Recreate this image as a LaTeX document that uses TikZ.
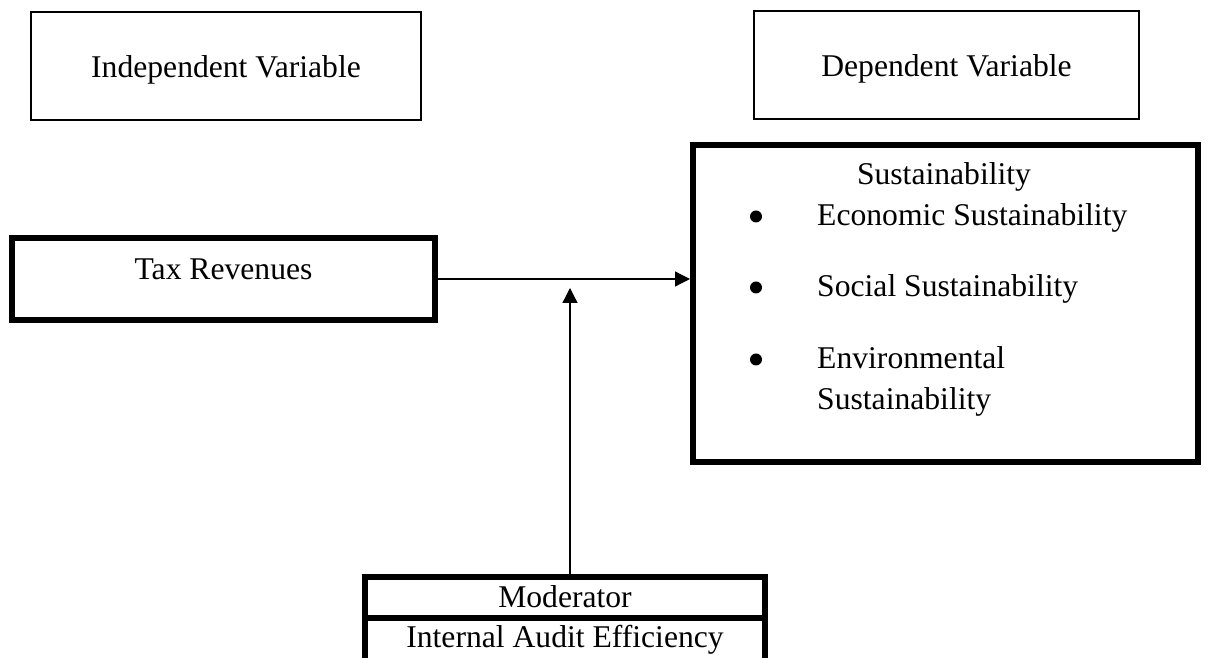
\documentclass[tikz,border=0pt]{standalone}
\usepackage{fontspec}
\setmainfont{Liberation Serif}
\usetikzlibrary{arrows.meta}
\tikzset{thinbox/.style={draw, line width=0.04cm, inner sep=0pt},
  thickbox/.style={draw, line width=0.12cm, inner sep=0pt},
  dot/.style={circle, fill, inner sep=0pt, minimum size=0.24cm},
  link/.style={line width=0.026cm, -{Triangle[length=0.3cm,width=0.3cm]}}}

\begin{document}
\begin{tikzpicture}[font=\fontsize{18}{23.25}\selectfont]
\useasboundingbox (0,0) rectangle (24.18,13.16);

\node[thinbox, anchor=base, minimum width=7.8cm, text height=1.32cm, text depth=0.84cm] (indep) at (4.52,11.6) {Independent Variable};
\node[thinbox, anchor=base, minimum width=7.7cm, text height=1.32cm, text depth=0.84cm] (dep) at (18.93,11.62) {Dependent Variable};

\node[thickbox, anchor=base, minimum width=8.46cm, text height=0.84cm, text depth=0.8cm] (tax) at (4.47,7.56) {Tax Revenues};

\node[thickbox, minimum width=10.1cm, minimum height=6.34cm] (sus) at (18.91,7.09) {};
\node[anchor=base] (sustitle) at (18.88,9.46) {Sustainability};
\node[dot] (b1) at (15.12,8.83) {};
\node[anchor=base west] (eco) at (16.22,8.64) {Economic Sustainability};
\node[dot] (b2) at (15.12,7.41) {};
\node[anchor=base west] (soc) at (16.22,7.22) {Social Sustainability};
\node[dot] (b3) at (15.12,5.97) {};
\node[anchor=base west] (env) at (16.22,5.78) {Environmental};
\node[anchor=base west] (env2) at (16.22,4.96) {Sustainability};

% moderator, its lower box runs off the page
\node[thickbox, outer sep=0pt, anchor=base, minimum width=8cm, text height=0.62cm, text depth=0.2cm] (mod) at (11.3,1.0) {Moderator};
\node[thickbox, outer sep=0pt, anchor=north, minimum width=8cm, text height=0.6cm, text depth=0.4cm] (audit) at (mod.south) {Internal Audit Efficiency};

\coordinate (meet) at (11.4,7.4);
\draw[link] (tax.east) -- (tax.east -| sus.west);
\draw[link] (mod.north -| meet) -- (meet);

\end{tikzpicture}
\end{document}
